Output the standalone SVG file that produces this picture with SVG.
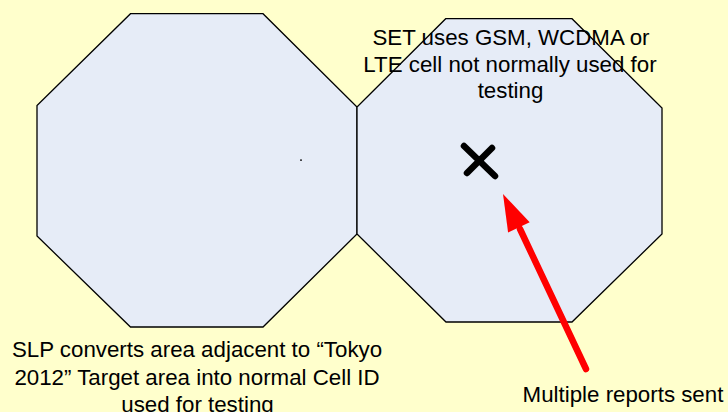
<svg xmlns="http://www.w3.org/2000/svg" width="728" height="412" viewBox="0 0 728 412">
<style>
.cell{fill:#E6ECF7;stroke:#000;stroke-width:1.3;stroke-linejoin:miter}
.lbl{font-family:"Liberation Sans",Arial,sans-serif;font-size:22.3px;fill:#000;text-anchor:middle}
</style>
<rect x="0" y="0" width="728" height="412" fill="#FFFFCC"/>
<g id="cell-left">
<polygon class="cell" points="130.5,13.7 263,13.7 357,107 357,234 263,327 130.5,327 37,236 37,105.5"/>
<rect x="300" y="159.5" width="2" height="1.2" fill="#000"/>
</g>
<g id="cell-right">
<polygon class="cell" points="445.7,18.7 572,18.7 662,108 662,234 572,322 446,322 357,234 357,107"/>
<text class="lbl"><tspan x="511" y="45">SET uses GSM, WCDMA or</tspan><tspan x="510" y="71.5">LTE cell not normally used for</tspan><tspan x="510.5" y="98">testing</tspan></text>
</g>
<g id="set-mark">
<path d="M464,146 L495,176 M492,148 L467,173" stroke="#000" stroke-width="6.5" stroke-linecap="round" fill="none"/>
</g>
<g id="connectors">
<path d="M586,369 L520,229" stroke="#FF0000" stroke-width="6.5" stroke-linecap="round" fill="none"/>
<polygon points="503,194 529.7,222.3 508.1,232.5" fill="#FF0000"/>
</g>
<g id="label-slp">
<text class="lbl"><tspan x="197" y="357">SLP converts area adjacent to “Tokyo</tspan><tspan x="197" y="385">2012” Target area into normal Cell ID</tspan><tspan x="197.5" y="412">used for testing</tspan></text>
</g>
<g id="label-reports">
<text class="lbl" x="623" y="402">Multiple reports sent</text>
</g>
</svg>
